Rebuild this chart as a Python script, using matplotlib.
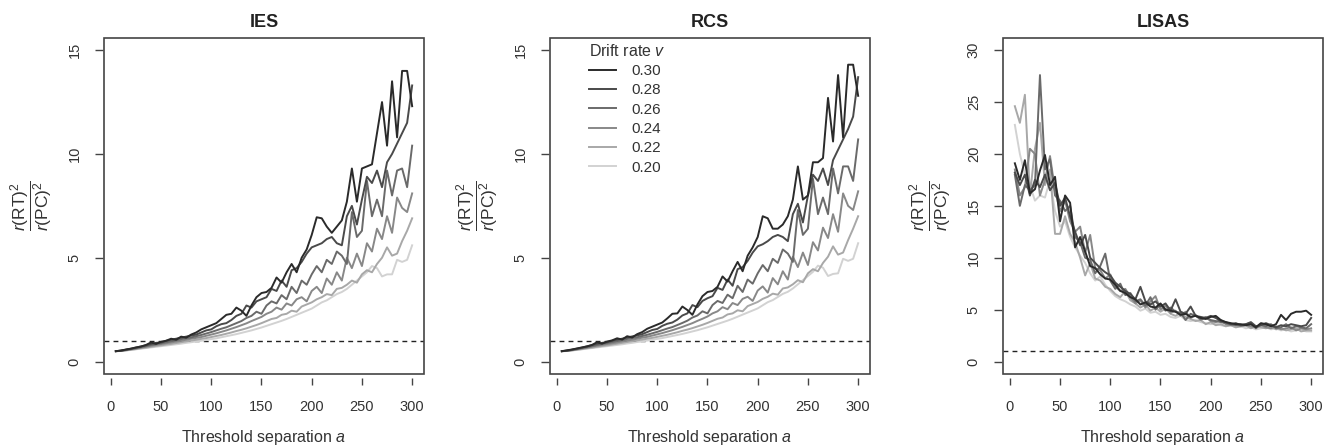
import matplotlib.pyplot as plt
from matplotlib.patches import Rectangle

plt.rcParams["font.family"] = ["Liberation Sans", "DejaVu Sans"]
plt.rcParams["mathtext.fontset"] = "custom"
plt.rcParams["mathtext.rm"] = "Liberation Sans"
plt.rcParams["mathtext.it"] = "Liberation Sans:italic"

# -----------------------------
# data
# -----------------------------
threshold = list(range(5, 301, 5))
drift_rates = ["0.30", "0.28", "0.26", "0.24", "0.22", "0.20"]

ies_030 = [0.50, 0.53, 0.58, 0.62, 0.68, 0.72, 0.80, 0.92, 0.85, 0.95,
           1.00, 1.10, 1.05, 1.20, 1.15, 1.30, 1.40, 1.55, 1.65, 1.75,
           1.85, 2.05, 2.25, 2.30, 2.60, 2.45, 2.20, 2.70, 3.10, 3.30,
           3.35, 3.55, 4.05, 3.80, 4.30, 4.70, 4.30, 5.00, 5.40, 6.10,
           6.95, 6.90, 6.50, 6.20, 6.50, 6.80, 7.70, 9.30, 7.70, 9.30,
           9.40, 9.50, 11.0, 12.5, 10.4, 13.5, 10.8, 14.0, 14.0, 12.3]
ies_028 = [0.50, 0.52, 0.57, 0.62, 0.67, 0.73, 0.78, 0.85, 0.90, 0.92,
           1.00, 1.05, 1.10, 1.15, 1.20, 1.25, 1.30, 1.40, 1.50, 1.55,
           1.70, 1.80, 1.85, 2.00, 2.20, 2.30, 2.70, 2.60, 2.90, 3.00,
           3.10, 3.50, 3.40, 3.90, 3.60, 4.40, 4.50, 4.80, 5.20, 5.50,
           5.60, 5.70, 5.90, 6.00, 5.70, 5.60, 7.00, 7.50, 6.60, 7.80,
           8.90, 8.60, 9.20, 8.40, 9.60, 10.0, 10.5, 11.0, 11.5, 13.3]
ies_026 = [0.50, 0.52, 0.56, 0.60, 0.64, 0.69, 0.74, 0.80, 0.84, 0.88,
           0.93, 0.98, 1.02, 1.08, 1.12, 1.16, 1.22, 1.28, 1.35, 1.42,
           1.50, 1.58, 1.65, 1.75, 1.85, 1.95, 2.10, 2.20, 2.40, 2.30,
           2.70, 2.90, 2.80, 3.20, 3.00, 3.60, 3.30, 3.90, 3.70, 4.20,
           4.60, 4.30, 4.90, 4.70, 5.30, 5.10, 4.70, 7.20, 6.00, 6.30,
           8.70, 7.00, 7.80, 7.00, 9.20, 8.00, 9.20, 9.30, 8.40, 10.4]
ies_024 = [0.50, 0.52, 0.55, 0.59, 0.63, 0.67, 0.71, 0.76, 0.80, 0.84,
           0.88, 0.92, 0.96, 1.00, 1.05, 1.10, 1.14, 1.18, 1.24, 1.30,
           1.36, 1.43, 1.50, 1.58, 1.66, 1.75, 1.84, 1.95, 2.05, 2.15,
           2.30, 2.40, 2.60, 2.50, 2.80, 2.70, 3.00, 3.10, 2.90, 3.40,
           3.60, 3.30, 4.00, 3.70, 4.30, 3.90, 5.00, 4.50, 5.20, 4.60,
           5.70, 5.30, 6.40, 5.90, 7.00, 6.20, 7.90, 7.40, 7.20, 8.10]
ies_022 = [0.50, 0.51, 0.54, 0.57, 0.60, 0.64, 0.67, 0.71, 0.75, 0.78,
           0.82, 0.85, 0.89, 0.93, 0.97, 1.01, 1.05, 1.09, 1.13, 1.18,
           1.23, 1.28, 1.34, 1.40, 1.47, 1.53, 1.60, 1.68, 1.76, 1.85,
           1.95, 2.05, 2.10, 2.25, 2.30, 2.45, 2.40, 2.65, 2.75, 2.85,
           3.00, 3.10, 3.25, 3.20, 3.50, 3.55, 3.70, 3.90, 3.80, 4.20,
           4.40, 4.30, 4.70, 5.00, 5.50, 5.10, 5.20, 5.80, 6.30, 6.90]
ies_020 = [0.50, 0.51, 0.53, 0.56, 0.59, 0.62, 0.65, 0.68, 0.71, 0.74,
           0.77, 0.80, 0.83, 0.86, 0.90, 0.93, 0.97, 1.00, 1.04, 1.08,
           1.12, 1.17, 1.22, 1.27, 1.32, 1.38, 1.44, 1.50, 1.57, 1.64,
           1.72, 1.80, 1.88, 1.96, 2.05, 2.15, 2.25, 2.35, 2.45, 2.55,
           2.70, 2.85, 2.95, 3.10, 3.25, 3.35, 3.50, 3.70, 3.90, 4.10,
           4.30, 4.60, 4.50, 4.10, 4.20, 4.20, 4.90, 4.80, 4.90, 5.60]

rcs_030 = [0.50, 0.54, 0.58, 0.63, 0.68, 0.73, 0.80, 0.93, 0.86, 0.96,
           1.02, 1.12, 1.06, 1.22, 1.16, 1.32, 1.42, 1.58, 1.68, 1.78,
           1.88, 2.08, 2.30, 2.32, 2.65, 2.48, 2.25, 2.75, 3.15, 3.35,
           3.40, 3.60, 4.10, 3.85, 4.35, 4.80, 4.35, 5.10, 5.50, 6.00,
           7.00, 6.90, 6.40, 6.40, 6.60, 7.00, 7.80, 9.40, 7.80, 8.00,
           9.60, 9.60, 9.80, 12.7, 10.6, 13.8, 10.8, 14.3, 14.3, 12.8]
rcs_028 = [0.50, 0.52, 0.57, 0.62, 0.67, 0.73, 0.79, 0.86, 0.90, 0.93,
           1.00, 1.06, 1.10, 1.16, 1.21, 1.26, 1.32, 1.42, 1.52, 1.57,
           1.72, 1.82, 1.88, 2.02, 2.22, 2.32, 2.72, 2.62, 2.92, 3.05,
           3.15, 3.55, 3.45, 3.95, 3.65, 4.45, 4.55, 4.85, 5.25, 5.55,
           5.65, 5.80, 6.00, 6.10, 6.00, 5.80, 7.10, 7.60, 6.70, 8.00,
           9.00, 8.70, 9.30, 8.50, 9.70, 10.2, 10.7, 11.2, 11.8, 13.7]
rcs_026 = [0.50, 0.52, 0.56, 0.60, 0.65, 0.69, 0.74, 0.80, 0.85, 0.89,
           0.94, 0.99, 1.03, 1.09, 1.13, 1.17, 1.23, 1.29, 1.36, 1.43,
           1.51, 1.59, 1.66, 1.76, 1.86, 1.97, 2.12, 2.22, 2.42, 2.32,
           2.72, 2.92, 2.82, 3.22, 3.05, 3.65, 3.35, 3.95, 3.75, 4.25,
           4.65, 4.35, 4.95, 4.75, 5.40, 5.20, 4.80, 7.30, 6.10, 6.40,
           8.80, 7.10, 7.90, 7.10, 9.30, 8.10, 9.40, 9.40, 8.70, 10.7]
rcs_024 = [0.50, 0.52, 0.55, 0.59, 0.63, 0.67, 0.72, 0.76, 0.80, 0.84,
           0.88, 0.92, 0.97, 1.01, 1.05, 1.10, 1.15, 1.19, 1.25, 1.31,
           1.37, 1.44, 1.51, 1.59, 1.67, 1.76, 1.85, 1.96, 2.06, 2.17,
           2.32, 2.42, 2.62, 2.52, 2.82, 2.72, 3.02, 3.12, 2.92, 3.42,
           3.62, 3.32, 4.02, 3.72, 4.35, 3.95, 5.05, 4.55, 5.25, 4.65,
           5.75, 5.35, 6.45, 5.95, 7.10, 6.25, 8.10, 7.50, 7.30, 8.20]
rcs_022 = [0.50, 0.51, 0.54, 0.57, 0.60, 0.64, 0.67, 0.71, 0.75, 0.78,
           0.82, 0.86, 0.90, 0.94, 0.98, 1.02, 1.06, 1.10, 1.14, 1.19,
           1.24, 1.29, 1.35, 1.41, 1.48, 1.54, 1.61, 1.69, 1.77, 1.86,
           1.96, 2.06, 2.12, 2.27, 2.32, 2.47, 2.42, 2.67, 2.77, 2.87,
           3.02, 3.12, 3.27, 3.22, 3.52, 3.57, 3.72, 3.92, 3.82, 4.25,
           4.45, 4.35, 4.75, 5.05, 5.55, 5.15, 5.25, 5.85, 6.40, 7.00]
rcs_020 = [0.50, 0.51, 0.53, 0.56, 0.59, 0.62, 0.65, 0.68, 0.71, 0.74,
           0.77, 0.80, 0.83, 0.87, 0.90, 0.94, 0.97, 1.01, 1.05, 1.09,
           1.13, 1.18, 1.23, 1.28, 1.33, 1.39, 1.45, 1.51, 1.58, 1.65,
           1.73, 1.81, 1.89, 1.97, 2.06, 2.16, 2.26, 2.36, 2.46, 2.56,
           2.71, 2.86, 2.96, 3.11, 3.26, 3.36, 3.52, 3.72, 3.92, 4.12,
           4.32, 4.62, 4.52, 4.12, 4.22, 4.25, 4.95, 4.85, 4.95, 5.70]

lisas_030 = [19.1, 17.5, 19.4, 16.2, 16.6, 18.4, 19.9, 17.0, 17.8, 13.5,
             16.0, 15.3, 11.0, 12.0, 10.6, 9.20, 9.00, 8.40, 8.00, 7.90,
             7.40, 6.80, 6.60, 6.20, 6.00, 5.50, 5.70, 5.30, 5.20, 5.60,
             5.00, 4.90, 4.80, 4.50, 4.60, 4.30, 4.40, 4.20, 4.10, 4.30,
             4.40, 4.00, 3.80, 3.70, 3.60, 3.60, 3.50, 3.60, 3.30, 3.70,
             3.60, 3.40, 3.60, 4.50, 4.00, 4.60, 4.80, 4.80, 4.90, 4.50]
lisas_028 = [18.2, 17.0, 18.0, 16.0, 17.5, 16.8, 18.0, 16.5, 17.2, 15.0,
             15.8, 14.0, 12.5, 11.2, 12.2, 10.0, 9.50, 9.00, 8.60, 8.30,
             7.60, 7.20, 6.80, 6.50, 6.00, 7.20, 5.80, 5.50, 5.80, 5.30,
             5.60, 4.90, 6.00, 4.80, 4.60, 5.30, 4.40, 4.30, 4.20, 4.40,
             4.20, 3.90, 3.80, 3.60, 3.70, 3.50, 3.60, 3.80, 3.40, 3.50,
             3.70, 3.50, 3.30, 3.50, 3.40, 3.60, 3.50, 3.40, 3.50, 4.20]
lisas_026 = [18.0, 15.0, 17.0, 16.5, 17.0, 27.6, 18.5, 19.5, 16.0, 15.5,
             14.5, 15.0, 12.0, 11.5, 10.0, 9.80, 8.50, 9.20, 10.4, 7.80,
             7.00, 7.50, 6.40, 6.60, 5.80, 6.00, 5.40, 6.20, 5.00, 5.50,
             4.90, 5.20, 4.80, 4.70, 4.00, 4.60, 4.40, 4.10, 4.20, 4.00,
             3.90, 3.80, 3.70, 3.60, 3.50, 3.50, 3.60, 3.70, 3.20, 3.60,
             3.40, 3.60, 3.20, 3.30, 3.60, 3.20, 3.40, 3.30, 3.20, 3.60]
lisas_024 = [18.5, 16.0, 16.8, 20.5, 20.0, 16.0, 17.5, 19.8, 16.5, 14.5,
             15.5, 13.5, 12.5, 13.0, 10.5, 12.2, 9.00, 8.80, 8.00, 8.40,
             7.20, 6.80, 7.00, 6.20, 5.60, 5.90, 5.20, 5.80, 6.30, 5.00,
             5.40, 4.70, 4.90, 4.40, 4.80, 4.20, 4.50, 4.00, 4.30, 3.90,
             3.80, 4.00, 3.60, 3.50, 3.60, 3.40, 3.50, 3.40, 3.30, 3.50,
             3.30, 3.20, 3.40, 3.10, 3.20, 3.30, 3.00, 3.20, 3.10, 3.20]
lisas_022 = [24.6, 23.0, 25.7, 16.0, 20.5, 23.0, 17.0, 18.5, 12.3, 12.3,
             14.0, 12.3, 11.5, 10.0, 8.30, 9.50, 8.00, 7.80, 7.20, 7.00,
             6.50, 6.20, 6.80, 5.90, 5.60, 5.20, 5.50, 4.90, 5.20, 4.80,
             5.10, 4.60, 4.40, 4.70, 4.30, 4.10, 3.90, 4.00, 3.60, 3.80,
             3.50, 3.60, 3.40, 3.50, 3.30, 3.40, 3.50, 3.20, 3.40, 3.30,
             3.20, 3.40, 3.10, 3.20, 3.00, 3.10, 3.20, 2.90, 3.00, 3.00]
lisas_020 = [22.8, 20.0, 18.0, 17.0, 15.5, 16.0, 15.8, 17.5, 14.5, 13.0,
             13.5, 12.0, 11.0, 10.2, 9.50, 8.50, 7.80, 8.20, 7.40, 6.80,
             6.30, 6.00, 5.80, 5.50, 5.30, 4.90, 5.10, 4.70, 4.80, 4.50,
             4.60, 4.30, 4.20, 4.40, 4.00, 3.90, 4.00, 3.80, 3.70, 3.60,
             3.70, 3.50, 3.40, 3.50, 3.30, 3.40, 3.20, 3.30, 3.10, 3.20,
             3.30, 3.10, 3.20, 3.00, 3.10, 2.90, 3.00, 3.10, 2.90, 2.90]

ies = [ies_030, ies_028, ies_026, ies_024, ies_022, ies_020]
rcs = [rcs_030, rcs_028, rcs_026, rcs_024, rcs_022, rcs_020]
lisas = [lisas_030, lisas_028, lisas_026, lisas_024, lisas_022, lisas_020]

line_colors = ["#2a2a2a", "#4a4a4a", "#6a6a6a", "#888888", "#a8a8a8", "#d2d2d2"]
ink = "#333333"

fig = plt.figure(figsize=(13.28, 4.46), dpi=100)

lefts = [104 / 1328, 550 / 1328, 1003 / 1328]
panels = [
    ("IES", ies, 15, [0, 5, 10, 15]),
    ("RCS", rcs, 15, [0, 5, 10, 15]),
    ("LISAS", lisas, 30, [0, 5, 10, 15, 20, 25, 30]),
]

for i, (title, series, ymax, yticks) in enumerate(panels):

    ax = fig.add_axes([lefts[i], 72 / 446, 320 / 1328, 336.3 / 446])

    for k, values in enumerate(series):
        ax.plot(
            threshold,
            values,
            color=line_colors[k],
            linewidth=1.4,
            zorder=10 - k,
            label=drift_rates[k],
        )

    ax.axhline(1, color="#222222", linewidth=1.0, linestyle=(0, (3.5, 3)), zorder=1)

    # R style axis ranges (4% padding)
    xpad = (300 - 5) * 0.04
    ax.set_xlim(5 - xpad, 300 + xpad)
    ax.set_ylim(-ymax * 0.04, ymax * 1.04)

    ax.set_xticks([0, 50, 100, 150, 200, 250, 300])
    ax.set_yticks(yticks)

    for side in ["top", "right", "bottom", "left"]:
        ax.spines[side].set_edgecolor("none")
    ax.spines["bottom"].set_position(("outward", 3))
    ax.spines["left"].set_position(("outward", 1))

    ax.tick_params(axis="x", direction="out", length=5, width=1.0,
                   color="#444444", labelcolor=ink, labelsize=10.5, pad=11)
    ax.tick_params(axis="y", direction="out", length=6, width=1.0,
                   color="#444444", labelcolor=ink, labelsize=10.5, pad=9,
                   labelrotation=90)
    for lab in ax.get_yticklabels():
        lab.set_verticalalignment("center")

    ax.add_patch(Rectangle((0, 0), 1, 1, transform=ax.transAxes, fill=False,
                           edgecolor="#444444", linewidth=1.2, clip_on=False,
                           zorder=20))

    ax.set_title(title, fontsize=13, fontweight="bold", color="#222222", pad=8)
    ax.set_xlabel(r"Threshold separation $a$", fontsize=11.5, color=ink,
                  labelpad=10)
    ax.text(-0.225, 0.5, r"$\dfrac{r(\mathrm{RT})^2}{r(\mathrm{PC})^2}$",
            transform=ax.transAxes, rotation=90, ha="center", va="center",
            fontsize=12.5, color=ink)

    if title == "RCS":
        leg = ax.legend(
            title=r"Drift rate $v$",
            loc="upper left",
            bbox_to_anchor=(0.122, 0.985),
            frameon=False,
            fontsize=11,
            title_fontsize=11.5,
            alignment="left",
            handlelength=1.75,
            handletextpad=1.0,
            labelspacing=0.35,
            borderpad=0,
            borderaxespad=0,
        )
        for t in leg.get_texts():
            t.set_color(ink)
        leg.get_title().set_color(ink)

fig.savefig("out.png", dpi=100)
